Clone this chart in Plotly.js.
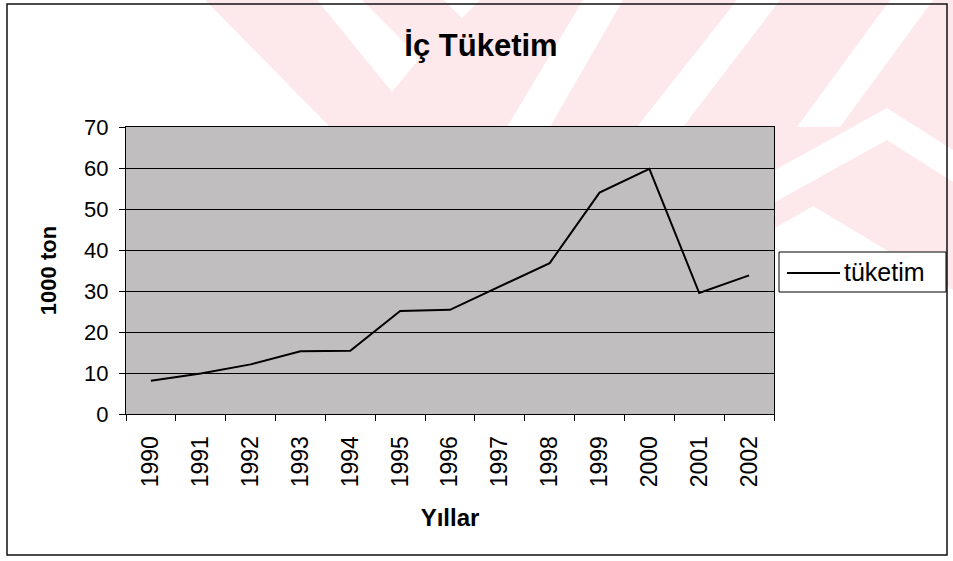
<!DOCTYPE html>
<html>
<head>
<meta charset="utf-8">
<script src="https://cdn.plot.ly/plotly-3.0.1.min.js"></script>
<style>html,body{margin:0;padding:0;background:#fff;}#chart{width:953px;height:561px;}</style>
</head>
<body>
<div id="chart"></div>
<script>
// ---- data ----
const years = ["1990","1991","1992","1993","1994","1995","1996","1997","1998","1999","2000","2001","2002"];
const tuketim = [8.1, 9.9, 12.1, 15.3, 15.4, 25.1, 25.4, 31.0, 36.8, 54.0, 59.8, 29.5, 33.8];
const yTicks = [0, 10, 20, 30, 40, 50, 60, 70];
const seriesName = "tüketim";
const chartTitle = "İç Tüketim";
const xTitle = "Yıllar";
const yTitle = "1000 ton";

// ---- layout geometry ----
const W = 953, H = 561;
const L = 126, R = 774, T = 127, B = 414;
const px = x => (x - L) / (R - L);
const py = y => (B - y) / (B - T);
function poly(pts, color) {
  const d = pts.map((p, i) => (i ? 'L' : 'M') + px(p[0]).toFixed(4) + ',' + py(p[1]).toFixed(4)).join(' ') + ' Z';
  return {type: 'path', xref: 'paper', yref: 'paper', path: d, fillcolor: color, line: {width: 0}, layer: 'below'};
}
const pink = '#fde8ec', white = '#ffffff';
const shapes = [
  poly([[205,0],[953,0],[953,300],[775,228],[775,127],[330,127]], pink),
  poly([[317,0],[362,0],[420,58],[392,92]], white),
  poly([[444,0],[480,0],[462,18]], white),
  poly([[583,0],[623,0],[550,127],[507,127]], white),
  poly([[737,0],[780,0],[683,127],[637,127]], white),
  poly([[890,0],[933,0],[840,127],[797,127]], white),
  poly([[775,170],[887,108],[953,150],[953,182],[887,140],[775,202]], white),
  poly([[775,228],[813,206],[953,290],[953,320]], white),
  // outer frame
  {type: 'rect', xref: 'paper', yref: 'paper', x0: px(7), x1: px(947), y0: py(555), y1: py(4),
   line: {color: '#111', width: 1.5}, fillcolor: 'rgba(0,0,0,0)', layer: 'below'},
  // legend box and sample line
  {type: 'rect', xref: 'paper', yref: 'paper', x0: px(779), x1: px(946), y0: py(292), y1: py(252),
   line: {color: '#000', width: 1}, fillcolor: '#ffffff', layer: 'above'},
  {type: 'line', xref: 'paper', yref: 'paper', x0: px(787), x1: px(840), y0: py(273), y1: py(273),
   line: {color: '#000', width: 2}, layer: 'above'}
];

const trace = {
  x: years, y: tuketim, type: 'scatter', mode: 'lines', name: seriesName,
  line: {color: '#000', width: 2}, showlegend: false
};

const font = 'Arial, "Liberation Sans", sans-serif';
const layout = {
  width: W, height: H,
  margin: {l: L, r: W - R, t: T, b: H - B, pad: 0},
  paper_bgcolor: '#ffffff',
  plot_bgcolor: '#c1bebf',
  font: {family: font, color: '#000'},
  title: {text: '<b>' + chartTitle + '</b>', font: {family: font, size: 31, color: '#000'},
          x: 481 / W, xanchor: 'center', y: 1 - 45 / H, yanchor: 'middle'},
  showlegend: false,
  annotations: [{
    xref: 'paper', yref: 'paper', x: px(842), y: py(272), xanchor: 'left', yanchor: 'middle',
    text: seriesName, showarrow: false, font: {family: font, size: 25, color: '#000'}
  }],
  xaxis: {
    type: 'category', range: [-0.5, years.length - 0.5], tickangle: -90, tickson: 'boundaries',
    ticks: 'outside', ticklen: 6, ticklabelstandoff: 12,
    tickcolor: '#000', tickfont: {family: font, size: 23, color: '#000'},
    showline: true, linecolor: '#000', linewidth: 1, mirror: true, showgrid: false,
    title: {text: '<b>' + xTitle + '</b>', font: {family: font, size: 24, color: '#000'}, standoff: 22}
  },
  yaxis: {
    range: [0, 70], tickvals: yTicks, ticks: 'outside', ticklen: 6, tickcolor: '#000',
    ticklabelstandoff: 6,
    tickfont: {family: font, size: 22, color: '#000'},
    showline: true, linecolor: '#000', linewidth: 1, mirror: true,
    showgrid: true, gridcolor: '#000', gridwidth: 1, zeroline: false,
    title: {text: '<b>' + yTitle + '</b>', font: {family: font, size: 22, color: '#000'}, standoff: 21}
  },
  shapes: shapes
};

Plotly.newPlot('chart', [trace], layout, {staticPlot: true, displayModeBar: false});
</script>
</body>
</html>
